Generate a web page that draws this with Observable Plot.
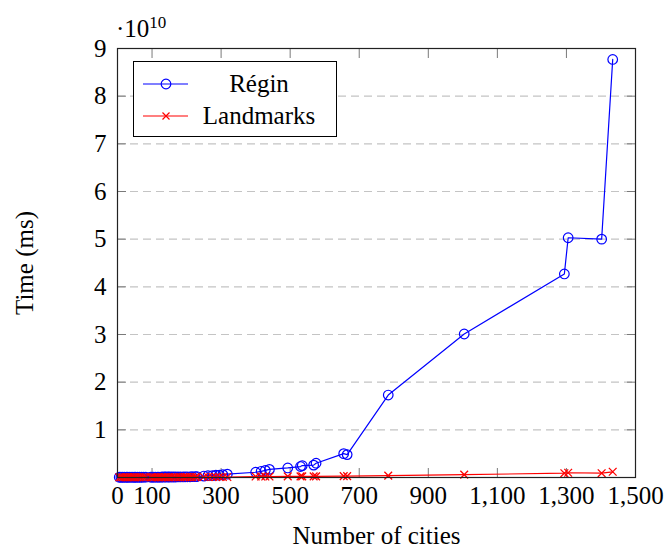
<!DOCTYPE html>
<html><head><meta charset="utf-8">
<script src="https://cdn.jsdelivr.net/npm/d3@7"></script>
<script src="https://cdn.jsdelivr.net/npm/@observablehq/plot@0.6"></script>
<style>
body{margin:0;background:#fff;}
#wrap{position:relative;width:666px;height:547px;font-family:"Liberation Serif",serif;color:#000;}
#wrap svg{display:block;}
#exp{position:absolute;left:116px;top:16px;font-size:25px;line-height:1;}
#exp sup{font-size:17px;position:relative;top:-9px;vertical-align:baseline;}
#legend{position:absolute;left:133px;top:61px;width:202px;height:74px;border:1.2px solid #000;background:#fff;font-size:25px;}
.row{position:absolute;left:0;width:202px;height:32px;}
.row svg{position:absolute;left:8px;top:0;}
.row span{position:absolute;left:60px;width:130px;text-align:center;top:2px;line-height:28px;}
</style></head><body><div id="wrap"></div>
<script>
const cities = [5,10,15,20,26,30,36,42,48,52,58,64,70,76,82,96,100,105,110,116,120,126,130,136,140,146,150,156,162,168,175,182,190,196,202,210,216,225,230,250,262,275,285,295,305,318,400,416,428,440,493,530,535,568,575,655,665,784,1004,1294,1305,1402,1434];
const regin = [0.005e10,0.005e10,0.005e10,0.005e10,0.005e10,0.005e10,0.005e10,0.005e10,0.005e10,0.005e10,0.005e10,0.005e10,0.005e10,0.007e10,0.007e10,0.007e10,0.007e10,0.007e10,0.007e10,0.007e10,0.007e10,0.007e10,0.01e10,0.01e10,0.01e10,0.01e10,0.01e10,0.01e10,0.01e10,0.01e10,0.012e10,0.012e10,0.012e10,0.015e10,0.015e10,0.015e10,0.018e10,0.018e10,0.02e10,0.03e10,0.04e10,0.04e10,0.05e10,0.05e10,0.06e10,0.07e10,0.11e10,0.13e10,0.15e10,0.17e10,0.2e10,0.23e10,0.25e10,0.26e10,0.3e10,0.5e10,0.48e10,1.73e10,3.01e10,4.27e10,5.03e10,5.0e10,8.77e10];
const landmarks = [0.005e10,0.005e10,0.005e10,0.005e10,0.005e10,0.005e10,0.005e10,0.005e10,0.005e10,0.005e10,0.005e10,0.005e10,0.005e10,0.005e10,0.005e10,0.005e10,0.005e10,0.005e10,0.005e10,0.005e10,0.005e10,0.005e10,0.005e10,0.005e10,0.005e10,0.005e10,0.005e10,0.005e10,0.005e10,0.005e10,0.008e10,0.008e10,0.008e10,0.008e10,0.008e10,0.008e10,0.008e10,0.008e10,0.01e10,0.01e10,0.01e10,0.01e10,0.01e10,0.01e10,0.01e10,0.01e10,0.02e10,0.02e10,0.02e10,0.02e10,0.025e10,0.025e10,0.025e10,0.025e10,0.025e10,0.03e10,0.03e10,0.04e10,0.06e10,0.09e10,0.1e10,0.09e10,0.12e10];
const xTicks = [0,100,300,500,700,900,1100,1300,1500];
const yTicks = [1e10,2e10,3e10,4e10,5e10,6e10,7e10,8e10,9e10];
const gridY = [1e10,2e10,3e10,4e10,5e10,6e10,7e10,8e10];
const seriesNames = ["Régin","Landmarks"];

const data = cities.map((c,i)=>({c, r: regin[i], l: landmarks[i]}));
const font = "Liberation Serif";
const tickColor = "#7a7a7a";
const chart = Plot.plot({
  width:666, height:547,
  marginLeft:117, marginRight:31, marginTop:48, marginBottom:70,
  style:{fontFamily:font, fontSize:"25px", background:"white", color:"black", overflow:"visible"},
  x:{domain:[0,1500]},
  y:{domain:[0,9e10]},
  marks:[
    Plot.ruleY(gridY, {stroke:"#c4c4c4", strokeDasharray:"8,5", strokeWidth:1.2}),
    Plot.axisX({anchor:"bottom", ticks:xTicks, tickSize:-9, stroke:tickColor, tickFormat:()=>"", label:null}),
    Plot.axisX({anchor:"top", ticks:xTicks, tickSize:-9, stroke:tickColor, tickFormat:()=>"", label:null}),
    Plot.axisY({anchor:"left", ticks:yTicks, tickSize:-9, stroke:tickColor, tickFormat:()=>"", label:null}),
    Plot.axisY({anchor:"right", ticks:yTicks, tickSize:-9, stroke:tickColor, tickFormat:()=>"", label:null}),
    Plot.axisX({anchor:"bottom", ticks:xTicks, tickSize:0, tickPadding:9, fontSize:25, tickFormat:d3.format(","),
      label:"Number of cities", labelAnchor:"center", labelOffset:66, labelArrow:"none"}),
    Plot.axisY({anchor:"left", ticks:yTicks, tickSize:0, tickPadding:11, fontSize:25, tickFormat:d=>String(Math.round(d/1e10)),
      label:"Time (ms)", labelAnchor:"center", labelOffset:102, labelArrow:"none"}),
    Plot.line(data, {x:"c", y:"r", stroke:"#0000ff", strokeWidth:1.2}),
    Plot.dot(data, {x:"c", y:"r", symbol:"circle", r:4.8, stroke:"#0000ff", fill:"none", strokeWidth:1.2}),
    Plot.line(data, {x:"c", y:"l", stroke:"#ff0000", strokeWidth:1.2}),
    Plot.dot(data, {x:"c", y:"l", symbol:"times", r:3.6, stroke:"#ff0000", strokeWidth:1.3}),
    Plot.frame({stroke:"#222", strokeWidth:1.2})
  ]
});
const wrap = document.getElementById("wrap");
wrap.appendChild(chart);
const exp = document.createElement("div");
exp.id = "exp";
exp.innerHTML = "·10<sup>10</sup>";
wrap.appendChild(exp);
const leg = document.createElement("div");
leg.id = "legend";
leg.innerHTML = `
<div class="row" style="top:6px"><svg width="50" height="32"><line x1="1" x2="46" y1="16" y2="16" stroke="#0000ff" stroke-width="1.2"/><circle cx="24" cy="16" r="4.8" fill="none" stroke="#0000ff" stroke-width="1.2"/></svg><span>${seriesNames[0]}</span></div>
<div class="row" style="top:38px"><svg width="50" height="32"><line x1="1" x2="46" y1="16" y2="16" stroke="#ff0000" stroke-width="1.2"/><path d="M20.5,12.5L27.5,19.5M20.5,19.5L27.5,12.5" stroke="#ff0000" stroke-width="1.2"/></svg><span>${seriesNames[1]}</span></div>`;
wrap.appendChild(leg);
</script></body></html>
